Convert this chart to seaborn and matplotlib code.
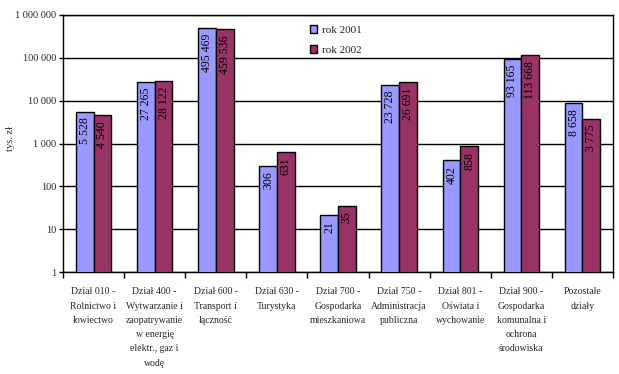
import matplotlib
matplotlib.use("Agg")
import matplotlib.pyplot as plt
import seaborn as sns
import pandas as pd
from matplotlib.ticker import FixedLocator, NullFormatter

categories = [
    "Dział 010 -\nRolnictwo i\nłowiectwo",
    "Dział 400 -\nWytwarzanie i\nzaopatrywanie\nw energię\nelektr., gaz i\nwodę",
    "Dział 600 -\nTransport i\nłączność",
    "Dział 630 -\nTurystyka",
    "Dział 700 -\nGospodarka\nmieszkaniowa",
    "Dział 750 -\nAdministracja\npubliczna",
    "Dział 801 -\nOświata i\nwychowanie",
    "Dział 900 -\nGospodarka\nkomunalna i\nochrona\nśrodowiska",
    "Pozostałe\ndziały",
]
series_names = ["rok 2001", "rok 2002"]
values_2001 = [5528, 27265, 495469, 306, 21, 23728, 402, 93165, 8658]
values_2002 = [4540, 28122, 459536, 631, 35, 26691, 858, 113668, 3775]
ytick_values = [1, 10, 100, 1000, 10000, 100000, 1000000]
ytick_labels = ["1", "10", "100", "1 000", "10 000", "100 000", "1 000 000"]

def fmt(v):
    return f"{v:,}".replace(",", " ")

df = pd.DataFrame({
    "cat": categories * 2,
    "series": [series_names[0]] * len(categories) + [series_names[1]] * len(categories),
    "value": values_2001 + values_2002,
})

sns.set_theme(style="white")
plt.rcParams["font.family"] = ["Liberation Serif", "DejaVu Serif"]

fig = plt.figure(figsize=(6.19, 3.74), dpi=100)
ax = fig.add_axes([63 / 619, 1 - 272 / 374, 550 / 619, 257 / 374])

palette = {"rok 2001": "#9999FF", "rok 2002": "#993366"}
sns.barplot(data=df, x="cat", y="value", hue="series", palette=palette,
            width=0.58, gap=0, edgecolor="black", linewidth=1.0,
            saturation=1, ax=ax, legend=True, zorder=3)
ax.set_yscale("log")
ax.set_ylim(1, 1000000)
ax.set_xlim(-0.5, len(categories) - 0.5)

ax.yaxis.set_major_locator(FixedLocator(ytick_values))
ax.set_yticks(ytick_values)
ax.set_yticklabels(ytick_labels, fontsize=7.5)
ax.yaxis.set_minor_formatter(NullFormatter())
ax.tick_params(axis="y", which="minor", length=0)
ax.tick_params(axis="y", which="major", length=3, width=1, color="black", direction="out", pad=2, left=True)
ax.grid(axis="y", color="black", linewidth=1, zorder=0)
ax.set_axisbelow(True)

ax.set_xticks(range(len(categories)))
ax.set_xticklabels(categories, fontsize=7, linespacing=1.75, va="top")
ax.tick_params(axis="x", which="major", length=0, pad=11)
ax.set_xticks([i - 0.5 for i in range(len(categories) + 1)], minor=True)
ax.tick_params(axis="x", which="minor", length=4, width=1, color="black", direction="out", bottom=True)

ax.set_xlabel("")
ax.set_ylabel("tys. zł", fontsize=7.5)
ax.yaxis.set_label_coords(-48 / 550, 0.52)

for s in ax.spines.values():
    s.set_color("black")
    s.set_linewidth(1)

for cont in ax.containers:
    labels = [fmt(int(v)) for v in cont.datavalues]
    ax.bar_label(cont, labels=labels, rotation=90, padding=-4, label_type="edge",
                 fontsize=8.5, color="black")
for t in ax.texts:
    t.set_verticalalignment("top")
    t.set_horizontalalignment("center")

leg = ax.legend(loc="upper left", bbox_to_anchor=(0.43, 1.0), frameon=False,
                fontsize=8, handlelength=0.7, handleheight=0.7, handletextpad=0.4,
                labelspacing=0.9)

fig.savefig("out.png", dpi=100)
